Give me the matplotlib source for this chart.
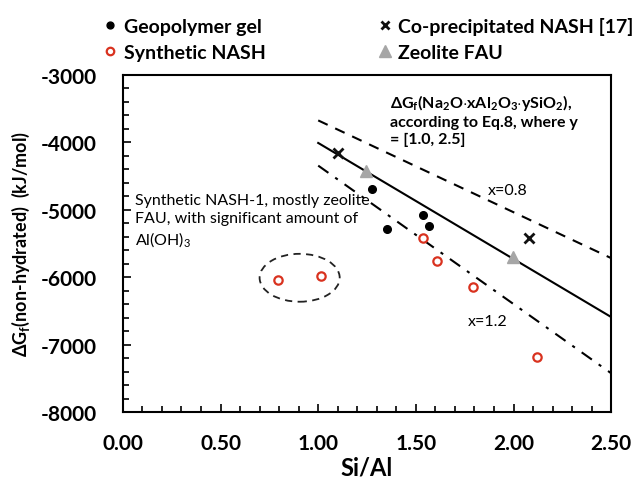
import matplotlib
matplotlib.use("Agg")
import matplotlib.pyplot as plt
from matplotlib.patches import Ellipse
from matplotlib.ticker import MultipleLocator, FormatStrFormatter

plt.rcParams['font.family'] = ['Lato', 'DejaVu Sans']
plt.rcParams['mathtext.fontset'] = 'custom'
plt.rcParams['mathtext.rm'] = 'Lato'
plt.rcParams['mathtext.bf'] = 'Lato:bold'
plt.rcParams['axes.unicode_minus'] = False

# Data
geo_x = [1.277, 1.351, 1.539, 1.566]
geo_y = [-4690, -5280, -5076, -5244]
synth_x = [0.794, 1.016, 1.539, 1.607, 1.791, 2.120]
synth_y = [-6037, -5984, -5421, -5766, -6141, -7176]
coprec_x = [1.101, 2.077]
coprec_y = [-4158, -5421]
zeo_x = [1.246, 1.995]
zeo_y = [-4420, -5700]
line_x = [1.0, 2.5]
line_mid_y = [-4010, -6590]    # x = 1.0
line_up_y = [-3676, -5717]     # x = 0.8
line_low_y = [-4346, -7423]    # x = 1.2

fig = plt.figure(figsize=(6.4, 4.89), dpi=100)
ax = fig.add_axes([0.192, 0.155, 0.763, 0.690])

ax.plot(line_x, line_mid_y, color='black', lw=1.5, zorder=2)
ax.plot(line_x, line_up_y, color='black', lw=1.5, ls=(0, (5, 4)), zorder=2)
ax.plot(line_x, line_low_y, color='black', lw=1.5, ls=(0, (6, 4, 1.5, 4)), zorder=2)

h1, = ax.plot(geo_x, geo_y, 'o', color='black', ms=5.5, ls='none', zorder=4)
h2, = ax.plot(synth_x, synth_y, 'o', mfc='white', mec='#d9321f', mew=1.6, ms=6, ls='none', zorder=4)
h3, = ax.plot(coprec_x, coprec_y, 'x', color='#111111', mew=2, ms=7, ls='none', zorder=4)
h4, = ax.plot(zeo_x, zeo_y, '^', color='#a6a6a6', ms=9, ls='none', zorder=4)

ax.add_patch(Ellipse((0.905, -6008), 0.41, 710, fill=False, ls=(0, (4, 3)), lw=1.3, color='#222222'))

ax.set_xlim(0, 2.5)
ax.set_ylim(-8000, -3000)
ax.xaxis.set_major_locator(MultipleLocator(0.5))
ax.xaxis.set_minor_locator(MultipleLocator(0.1))
ax.yaxis.set_major_locator(MultipleLocator(1000))
ax.yaxis.set_minor_locator(MultipleLocator(200))
ax.xaxis.set_major_formatter(FormatStrFormatter('%.2f'))
ax.tick_params(which='both', direction='in', top=False, right=False, width=1.2)
ax.tick_params(which='major', length=6)
ax.tick_params(which='minor', length=4)
ax.tick_params(axis='x', pad=15)
ax.tick_params(axis='y', pad=19)
for lab in ax.get_xticklabels() + ax.get_yticklabels():
    lab.set_fontweight('bold')
    lab.set_fontsize(15)
for s in ax.spines.values():
    s.set_linewidth(1.5)

ax.set_xlabel('Si/Al', fontsize=17, fontweight='bold', labelpad=2)
ax.set_ylabel(r'$\mathbf{\Delta G_f}$(non-hydrated)  (kJ/mol)', fontsize=13, fontweight='bold', labelpad=6)

ax.text(1.37, -3250, r'$\mathbf{\Delta G_f(Na_2O{\cdot}xAl_2O_3{\cdot}ySiO_2)}$,' + '\naccording to Eq.8, where y\n= [1.0, 2.5]',
        fontsize=11.5, fontweight='bold', va='top', ha='left', linespacing=1.3)
ax.text(1.97, -4710, 'x=0.8', fontsize=11.5, ha='center', va='center')
ax.text(1.87, -6650, 'x=1.2', fontsize=11.5, ha='center', va='center')
ax.text(0.06, -4750, 'Synthetic NASH-1, mostly zeolite\nFAU, with significant amount of\nAl(OH)$_3$',
        fontsize=11.5, ha='left', va='top', linespacing=1.35)

fig.legend([h1, h2, h3, h4], ['Geopolymer gel', 'Synthetic NASH', 'Co-precipitated NASH [17]', 'Zeolite FAU'],
           ncol=2, loc='upper left', bbox_to_anchor=(0.13, 1.0), frameon=False,
           prop={'weight': 'bold', 'size': 14}, handletextpad=0.2, columnspacing=5.6,
           labelspacing=0.48, handlelength=1.0, markerscale=0.9)

fig.savefig('out.png', dpi=100)
